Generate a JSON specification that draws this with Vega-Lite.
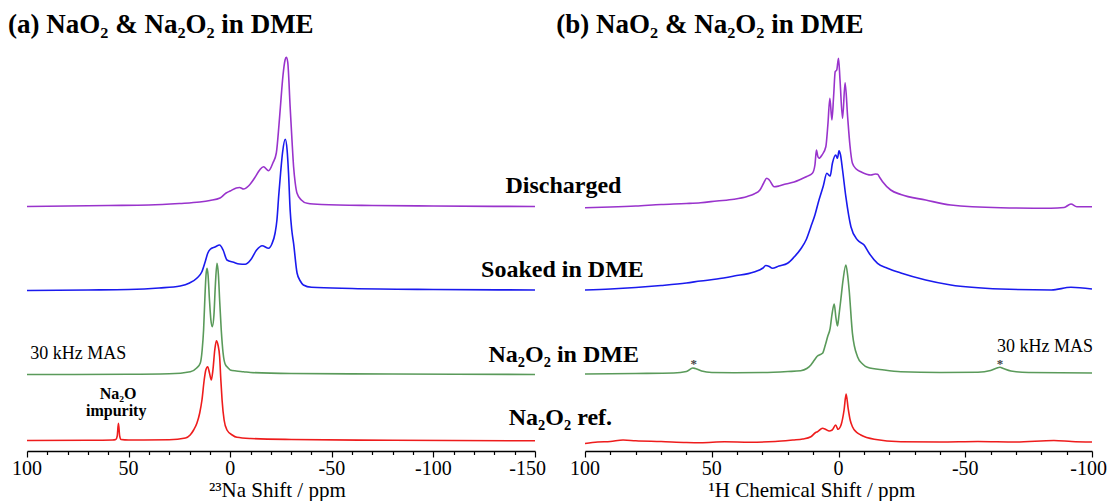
{
  "$schema": "https://vega.github.io/schema/vega-lite/v6.json",
  "padding": {"left": 8, "top": 11, "right": 0, "bottom": 0},
  "background": "white",
  "config": {
    "view": {"stroke": null}
  },
  "datasets": {
    "na": [
      {"sample":"Discharged","ppm":100,"intensity":244.5},{"sample":"Discharged","ppm":80,"intensity":245},{"sample":"Discharged","ppm":60,"intensity":245.5},{"sample":"Discharged","ppm":40,"intensity":246},{"sample":"Discharged","ppm":25,"intensity":247.5},{"sample":"Discharged","ppm":15,"intensity":249},{"sample":"Discharged","ppm":10,"intensity":250.5},{"sample":"Discharged","ppm":5,"intensity":253},{"sample":"Discharged","ppm":2,"intensity":258},{"sample":"Discharged","ppm":0,"intensity":260},{"sample":"Discharged","ppm":-3,"intensity":263},{"sample":"Discharged","ppm":-4.6,"intensity":263.5},{"sample":"Discharged","ppm":-6.6,"intensity":262},{"sample":"Discharged","ppm":-9,"intensity":265},{"sample":"Discharged","ppm":-12,"intensity":273},{"sample":"Discharged","ppm":-14.5,"intensity":281},{"sample":"Discharged","ppm":-16.4,"intensity":284.3},{"sample":"Discharged","ppm":-18.9,"intensity":280.3},{"sample":"Discharged","ppm":-21,"intensity":288},{"sample":"Discharged","ppm":-22.7,"intensity":298},{"sample":"Discharged","ppm":-24,"intensity":326},{"sample":"Discharged","ppm":-24.7,"intensity":344},{"sample":"Discharged","ppm":-26,"intensity":376},{"sample":"Discharged","ppm":-27,"intensity":391},{"sample":"Discharged","ppm":-27.6,"intensity":393.7},{"sample":"Discharged","ppm":-28.3,"intensity":389},{"sample":"Discharged","ppm":-29.5,"intensity":344},{"sample":"Discharged","ppm":-30.4,"intensity":311},{"sample":"Discharged","ppm":-31.2,"intensity":284.3},{"sample":"Discharged","ppm":-32,"intensity":268},{"sample":"Discharged","ppm":-32.9,"intensity":257.7},{"sample":"Discharged","ppm":-35,"intensity":251},{"sample":"Discharged","ppm":-37.9,"intensity":247.7},{"sample":"Discharged","ppm":-45,"intensity":246.5},{"sample":"Discharged","ppm":-70,"intensity":245.5},{"sample":"Discharged","ppm":-100,"intensity":245},{"sample":"Discharged","ppm":-150,"intensity":244.5},
      {"sample":"Soaked in DME","ppm":100,"intensity":160.5},{"sample":"Soaked in DME","ppm":70,"intensity":161},{"sample":"Soaked in DME","ppm":50,"intensity":161.5},{"sample":"Soaked in DME","ppm":35,"intensity":163},{"sample":"Soaked in DME","ppm":24.6,"intensity":165},{"sample":"Soaked in DME","ppm":20,"intensity":168},{"sample":"Soaked in DME","ppm":16.3,"intensity":173},{"sample":"Soaked in DME","ppm":14,"intensity":179},{"sample":"Soaked in DME","ppm":12.3,"intensity":189.3},{"sample":"Soaked in DME","ppm":11,"intensity":198},{"sample":"Soaked in DME","ppm":9.8,"intensity":201.7},{"sample":"Soaked in DME","ppm":7.5,"intensity":204},{"sample":"Soaked in DME","ppm":5.2,"intensity":206},{"sample":"Soaked in DME","ppm":3.5,"intensity":201},{"sample":"Soaked in DME","ppm":1.6,"intensity":191},{"sample":"Soaked in DME","ppm":-1.7,"intensity":188.7},{"sample":"Soaked in DME","ppm":-4.5,"intensity":187},{"sample":"Soaked in DME","ppm":-7.4,"intensity":186.7},{"sample":"Soaked in DME","ppm":-10,"intensity":191},{"sample":"Soaked in DME","ppm":-13,"intensity":201},{"sample":"Soaked in DME","ppm":-15.7,"intensity":205.3},{"sample":"Soaked in DME","ppm":-18.9,"intensity":202.7},{"sample":"Soaked in DME","ppm":-20.5,"intensity":207},{"sample":"Soaked in DME","ppm":-22.1,"intensity":218},{"sample":"Soaked in DME","ppm":-23,"intensity":231},{"sample":"Soaked in DME","ppm":-23.9,"intensity":256},{"sample":"Soaked in DME","ppm":-24.8,"intensity":278},{"sample":"Soaked in DME","ppm":-25.8,"intensity":299},{"sample":"Soaked in DME","ppm":-27.1,"intensity":311.7},{"sample":"Soaked in DME","ppm":-28,"intensity":301},{"sample":"Soaked in DME","ppm":-28.7,"intensity":278},{"sample":"Soaked in DME","ppm":-29.5,"intensity":241},{"sample":"Soaked in DME","ppm":-30.3,"intensity":221},{"sample":"Soaked in DME","ppm":-31.2,"intensity":207.7},{"sample":"Soaked in DME","ppm":-32.9,"intensity":178},{"sample":"Soaked in DME","ppm":-34.5,"intensity":170},{"sample":"Soaked in DME","ppm":-36,"intensity":166},{"sample":"Soaked in DME","ppm":-40,"intensity":163.7},{"sample":"Soaked in DME","ppm":-60,"intensity":162.5},{"sample":"Soaked in DME","ppm":-100,"intensity":161.5},{"sample":"Soaked in DME","ppm":-150,"intensity":161},
      {"sample":"Na2O2 in DME","ppm":100,"intensity":76.5},{"sample":"Na2O2 in DME","ppm":50,"intensity":76.7},{"sample":"Na2O2 in DME","ppm":30,"intensity":77.2},{"sample":"Na2O2 in DME","ppm":19.6,"intensity":79.3},{"sample":"Na2O2 in DME","ppm":16.5,"intensity":83},{"sample":"Na2O2 in DME","ppm":14.7,"intensity":88},{"sample":"Na2O2 in DME","ppm":13.8,"intensity":101},{"sample":"Na2O2 in DME","ppm":13.1,"intensity":121},{"sample":"Na2O2 in DME","ppm":12.4,"intensity":156},{"sample":"Na2O2 in DME","ppm":11.9,"intensity":176},{"sample":"Na2O2 in DME","ppm":11.4,"intensity":182.7},{"sample":"Na2O2 in DME","ppm":10.9,"intensity":176},{"sample":"Na2O2 in DME","ppm":10.2,"intensity":151},{"sample":"Na2O2 in DME","ppm":9.5,"intensity":131},{"sample":"Na2O2 in DME","ppm":8.8,"intensity":124.3},{"sample":"Na2O2 in DME","ppm":8,"intensity":136},{"sample":"Na2O2 in DME","ppm":7.3,"intensity":166},{"sample":"Na2O2 in DME","ppm":6.5,"intensity":187.7},{"sample":"Na2O2 in DME","ppm":5.8,"intensity":176},{"sample":"Na2O2 in DME","ppm":5.2,"intensity":151},{"sample":"Na2O2 in DME","ppm":4.4,"intensity":121},{"sample":"Na2O2 in DME","ppm":3.5,"intensity":98},{"sample":"Na2O2 in DME","ppm":2.5,"intensity":87},{"sample":"Na2O2 in DME","ppm":1,"intensity":83},{"sample":"Na2O2 in DME","ppm":0,"intensity":81},{"sample":"Na2O2 in DME","ppm":-3,"intensity":80},{"sample":"Na2O2 in DME","ppm":-6.6,"intensity":79.3},{"sample":"Na2O2 in DME","ppm":-10,"intensity":78.5},{"sample":"Na2O2 in DME","ppm":-30,"intensity":77.5},{"sample":"Na2O2 in DME","ppm":-80,"intensity":77},{"sample":"Na2O2 in DME","ppm":-150,"intensity":76.5},
      {"sample":"Na2O2 ref.","ppm":100,"intensity":10.5},{"sample":"Na2O2 ref.","ppm":70,"intensity":10.7},{"sample":"Na2O2 ref.","ppm":58,"intensity":11},{"sample":"Na2O2 ref.","ppm":56.3,"intensity":11.5},{"sample":"Na2O2 ref.","ppm":55.6,"intensity":15},{"sample":"Na2O2 ref.","ppm":55,"intensity":27.7},{"sample":"Na2O2 ref.","ppm":54.4,"intensity":15},{"sample":"Na2O2 ref.","ppm":53.7,"intensity":11.5},{"sample":"Na2O2 ref.","ppm":50,"intensity":11},{"sample":"Na2O2 ref.","ppm":30,"intensity":11.2},{"sample":"Na2O2 ref.","ppm":22,"intensity":13},{"sample":"Na2O2 ref.","ppm":19.7,"intensity":16},{"sample":"Na2O2 ref.","ppm":18,"intensity":21},{"sample":"Na2O2 ref.","ppm":16.4,"intensity":27.7},{"sample":"Na2O2 ref.","ppm":15,"intensity":38},{"sample":"Na2O2 ref.","ppm":13.9,"intensity":51},{"sample":"Na2O2 ref.","ppm":12.8,"intensity":71},{"sample":"Na2O2 ref.","ppm":12,"intensity":81},{"sample":"Na2O2 ref.","ppm":11.1,"intensity":84.3},{"sample":"Na2O2 ref.","ppm":10.2,"intensity":78},{"sample":"Na2O2 ref.","ppm":9.3,"intensity":71},{"sample":"Na2O2 ref.","ppm":8.5,"intensity":81},{"sample":"Na2O2 ref.","ppm":7.6,"intensity":101},{"sample":"Na2O2 ref.","ppm":6.8,"intensity":110.3},{"sample":"Na2O2 ref.","ppm":6,"intensity":106},{"sample":"Na2O2 ref.","ppm":5.2,"intensity":94.3},{"sample":"Na2O2 ref.","ppm":4.6,"intensity":71},{"sample":"Na2O2 ref.","ppm":4,"intensity":51},{"sample":"Na2O2 ref.","ppm":3,"intensity":31},{"sample":"Na2O2 ref.","ppm":1.6,"intensity":21},{"sample":"Na2O2 ref.","ppm":-1,"intensity":16},{"sample":"Na2O2 ref.","ppm":-3.3,"intensity":13.7},{"sample":"Na2O2 ref.","ppm":-10,"intensity":12.5},{"sample":"Na2O2 ref.","ppm":-30,"intensity":11.5},{"sample":"Na2O2 ref.","ppm":-80,"intensity":10.7},{"sample":"Na2O2 ref.","ppm":-150,"intensity":10.2}
    ],
    "h": [
      {"sample":"Discharged","ppm":100,"intensity":243.3},{"sample":"Discharged","ppm":90,"intensity":244},{"sample":"Discharged","ppm":80,"intensity":245},{"sample":"Discharged","ppm":70,"intensity":246.5},{"sample":"Discharged","ppm":60,"intensity":247.5},{"sample":"Discharged","ppm":54.4,"intensity":248.3},{"sample":"Discharged","ppm":48,"intensity":250},{"sample":"Discharged","ppm":41.2,"intensity":251.7},{"sample":"Discharged","ppm":36,"intensity":254.5},{"sample":"Discharged","ppm":33.3,"intensity":257},{"sample":"Discharged","ppm":31,"intensity":261},{"sample":"Discharged","ppm":29.5,"intensity":268},{"sample":"Discharged","ppm":28.3,"intensity":272.7},{"sample":"Discharged","ppm":27.3,"intensity":271},{"sample":"Discharged","ppm":25.4,"intensity":264.3},{"sample":"Discharged","ppm":23.5,"intensity":265},{"sample":"Discharged","ppm":20.8,"intensity":267},{"sample":"Discharged","ppm":17.5,"intensity":269},{"sample":"Discharged","ppm":14.9,"intensity":271.7},{"sample":"Discharged","ppm":12.5,"intensity":274.5},{"sample":"Discharged","ppm":10.3,"intensity":277.7},{"sample":"Discharged","ppm":9.3,"intensity":286},{"sample":"Discharged","ppm":8.7,"intensity":301},{"sample":"Discharged","ppm":8.2,"intensity":295},{"sample":"Discharged","ppm":7.7,"intensity":292.7},{"sample":"Discharged","ppm":6.5,"intensity":296},{"sample":"Discharged","ppm":5,"intensity":304.3},{"sample":"Discharged","ppm":4.2,"intensity":326},{"sample":"Discharged","ppm":3.4,"intensity":352.7},{"sample":"Discharged","ppm":2.6,"intensity":331},{"sample":"Discharged","ppm":1.9,"intensity":356},{"sample":"Discharged","ppm":1.3,"intensity":379.3},{"sample":"Discharged","ppm":0.7,"intensity":381},{"sample":"Discharged","ppm":0,"intensity":392.7},{"sample":"Discharged","ppm":-0.6,"intensity":371},{"sample":"Discharged","ppm":-1.6,"intensity":332.7},{"sample":"Discharged","ppm":-2.6,"intensity":368.3},{"sample":"Discharged","ppm":-3.6,"intensity":334.3},{"sample":"Discharged","ppm":-4.5,"intensity":306},{"sample":"Discharged","ppm":-5.5,"intensity":287.7},{"sample":"Discharged","ppm":-7,"intensity":282},{"sample":"Discharged","ppm":-8.8,"intensity":279.3},{"sample":"Discharged","ppm":-12.8,"intensity":276},{"sample":"Discharged","ppm":-14.5,"intensity":277},{"sample":"Discharged","ppm":-15.4,"intensity":276.7},{"sample":"Discharged","ppm":-16.4,"intensity":273},{"sample":"Discharged","ppm":-17.4,"intensity":269.3},{"sample":"Discharged","ppm":-20.6,"intensity":261},{"sample":"Discharged","ppm":-24.6,"intensity":256.5},{"sample":"Discharged","ppm":-34.4,"intensity":251},{"sample":"Discharged","ppm":-44.3,"intensity":246},{"sample":"Discharged","ppm":-64,"intensity":243.3},{"sample":"Discharged","ppm":-83.8,"intensity":242.7},{"sample":"Discharged","ppm":-89,"intensity":243.5},{"sample":"Discharged","ppm":-91.7,"intensity":247},{"sample":"Discharged","ppm":-94,"intensity":244.3},{"sample":"Discharged","ppm":-100,"intensity":244.3},
      {"sample":"Soaked in DME","ppm":100,"intensity":161},{"sample":"Soaked in DME","ppm":90,"intensity":162},{"sample":"Soaked in DME","ppm":80,"intensity":163.5},{"sample":"Soaked in DME","ppm":70,"intensity":165.5},{"sample":"Soaked in DME","ppm":60,"intensity":168},{"sample":"Soaked in DME","ppm":54.4,"intensity":170},{"sample":"Soaked in DME","ppm":48,"intensity":172},{"sample":"Soaked in DME","ppm":41.2,"intensity":175},{"sample":"Soaked in DME","ppm":33.3,"intensity":179},{"sample":"Soaked in DME","ppm":29.8,"intensity":183},{"sample":"Soaked in DME","ppm":28.7,"intensity":185.5},{"sample":"Soaked in DME","ppm":27.3,"intensity":184.5},{"sample":"Soaked in DME","ppm":26.1,"intensity":182.7},{"sample":"Soaked in DME","ppm":23.5,"intensity":185},{"sample":"Soaked in DME","ppm":20.1,"intensity":187.7},{"sample":"Soaked in DME","ppm":17.5,"intensity":194},{"sample":"Soaked in DME","ppm":14.9,"intensity":202},{"sample":"Soaked in DME","ppm":12.8,"intensity":211},{"sample":"Soaked in DME","ppm":10.9,"intensity":224.3},{"sample":"Soaked in DME","ppm":9.3,"intensity":236},{"sample":"Soaked in DME","ppm":7.7,"intensity":251},{"sample":"Soaked in DME","ppm":6,"intensity":265},{"sample":"Soaked in DME","ppm":4.6,"intensity":277.7},{"sample":"Soaked in DME","ppm":3.3,"intensity":275},{"sample":"Soaked in DME","ppm":2.4,"intensity":287.7},{"sample":"Soaked in DME","ppm":1.1,"intensity":296},{"sample":"Soaked in DME","ppm":0.4,"intensity":292.7},{"sample":"Soaked in DME","ppm":-0.2,"intensity":300.3},{"sample":"Soaked in DME","ppm":-0.8,"intensity":296},{"sample":"Soaked in DME","ppm":-1.6,"intensity":281},{"sample":"Soaked in DME","ppm":-2.9,"intensity":254.3},{"sample":"Soaked in DME","ppm":-4.9,"intensity":224.3},{"sample":"Soaked in DME","ppm":-7.5,"intensity":211},{"sample":"Soaked in DME","ppm":-10.1,"intensity":206},{"sample":"Soaked in DME","ppm":-12.1,"intensity":197.7},{"sample":"Soaked in DME","ppm":-15.4,"intensity":187.7},{"sample":"Soaked in DME","ppm":-19.3,"intensity":182.7},{"sample":"Soaked in DME","ppm":-24.6,"intensity":178},{"sample":"Soaked in DME","ppm":-34.4,"intensity":171},{"sample":"Soaked in DME","ppm":-44.3,"intensity":166},{"sample":"Soaked in DME","ppm":-64,"intensity":162},{"sample":"Soaked in DME","ppm":-84,"intensity":161},{"sample":"Soaked in DME","ppm":-91.7,"intensity":163.7},{"sample":"Soaked in DME","ppm":-100,"intensity":162},
      {"sample":"Na2O2 in DME","ppm":100,"intensity":77},{"sample":"Na2O2 in DME","ppm":80,"intensity":77.5},{"sample":"Na2O2 in DME","ppm":65,"intensity":78},{"sample":"Na2O2 in DME","ppm":60,"intensity":79.5},{"sample":"Na2O2 in DME","ppm":57.5,"intensity":83},{"sample":"Na2O2 in DME","ppm":56.5,"intensity":82.5},{"sample":"Na2O2 in DME","ppm":54,"intensity":80},{"sample":"Na2O2 in DME","ppm":50,"intensity":78.5},{"sample":"Na2O2 in DME","ppm":41.2,"intensity":78.3},{"sample":"Na2O2 in DME","ppm":30,"intensity":78.5},{"sample":"Na2O2 in DME","ppm":20,"intensity":79.5},{"sample":"Na2O2 in DME","ppm":14.9,"intensity":80.3},{"sample":"Na2O2 in DME","ppm":12.5,"intensity":82.5},{"sample":"Na2O2 in DME","ppm":10.9,"intensity":86},{"sample":"Na2O2 in DME","ppm":9.5,"intensity":91},{"sample":"Na2O2 in DME","ppm":8.3,"intensity":95},{"sample":"Na2O2 in DME","ppm":7.2,"intensity":96.5},{"sample":"Na2O2 in DME","ppm":6.3,"intensity":97.7},{"sample":"Na2O2 in DME","ppm":5.2,"intensity":106},{"sample":"Na2O2 in DME","ppm":4.3,"intensity":114.3},{"sample":"Na2O2 in DME","ppm":3.3,"intensity":122.7},{"sample":"Na2O2 in DME","ppm":2.6,"intensity":136},{"sample":"Na2O2 in DME","ppm":1.7,"intensity":147},{"sample":"Na2O2 in DME","ppm":1,"intensity":133},{"sample":"Na2O2 in DME","ppm":0.4,"intensity":125},{"sample":"Na2O2 in DME","ppm":-0.2,"intensity":136},{"sample":"Na2O2 in DME","ppm":-0.9,"intensity":151},{"sample":"Na2O2 in DME","ppm":-1.8,"intensity":171},{"sample":"Na2O2 in DME","ppm":-2.9,"intensity":186},{"sample":"Na2O2 in DME","ppm":-3.6,"intensity":176},{"sample":"Na2O2 in DME","ppm":-4.2,"intensity":161},{"sample":"Na2O2 in DME","ppm":-5.5,"intensity":117.7},{"sample":"Na2O2 in DME","ppm":-7.5,"intensity":94.3},{"sample":"Na2O2 in DME","ppm":-9.5,"intensity":87},{"sample":"Na2O2 in DME","ppm":-11.4,"intensity":83.7},{"sample":"Na2O2 in DME","ppm":-18,"intensity":81},{"sample":"Na2O2 in DME","ppm":-24.6,"intensity":79.3},{"sample":"Na2O2 in DME","ppm":-40,"intensity":78.5},{"sample":"Na2O2 in DME","ppm":-55,"intensity":78.7},{"sample":"Na2O2 in DME","ppm":-60,"intensity":80.5},{"sample":"Na2O2 in DME","ppm":-62.5,"intensity":83},{"sample":"Na2O2 in DME","ppm":-63.7,"intensity":83.7},{"sample":"Na2O2 in DME","ppm":-65,"intensity":82.5},{"sample":"Na2O2 in DME","ppm":-68,"intensity":80},{"sample":"Na2O2 in DME","ppm":-75,"intensity":78.5},{"sample":"Na2O2 in DME","ppm":-100,"intensity":78},
      {"sample":"Na2O2 ref.","ppm":100,"intensity":7.5},{"sample":"Na2O2 ref.","ppm":95,"intensity":9},{"sample":"Na2O2 ref.","ppm":90,"intensity":9.5},{"sample":"Na2O2 ref.","ppm":85,"intensity":11},{"sample":"Na2O2 ref.","ppm":80,"intensity":10.2},{"sample":"Na2O2 ref.","ppm":70,"intensity":9.5},{"sample":"Na2O2 ref.","ppm":60,"intensity":8.5},{"sample":"Na2O2 ref.","ppm":54.4,"intensity":8.3},{"sample":"Na2O2 ref.","ppm":45,"intensity":9.2},{"sample":"Na2O2 ref.","ppm":35,"intensity":8.8},{"sample":"Na2O2 ref.","ppm":25,"intensity":9.5},{"sample":"Na2O2 ref.","ppm":18,"intensity":11},{"sample":"Na2O2 ref.","ppm":14.1,"intensity":12},{"sample":"Na2O2 ref.","ppm":10.9,"intensity":14.3},{"sample":"Na2O2 ref.","ppm":9,"intensity":18.5},{"sample":"Na2O2 ref.","ppm":8.3,"intensity":19.3},{"sample":"Na2O2 ref.","ppm":6.3,"intensity":22.7},{"sample":"Na2O2 ref.","ppm":5,"intensity":21.5},{"sample":"Na2O2 ref.","ppm":3.7,"intensity":20},{"sample":"Na2O2 ref.","ppm":2.5,"intensity":21},{"sample":"Na2O2 ref.","ppm":1.1,"intensity":26},{"sample":"Na2O2 ref.","ppm":0.2,"intensity":21.7},{"sample":"Na2O2 ref.","ppm":-1,"intensity":26},{"sample":"Na2O2 ref.","ppm":-2.2,"intensity":41},{"sample":"Na2O2 ref.","ppm":-3,"intensity":57},{"sample":"Na2O2 ref.","ppm":-3.8,"intensity":42.7},{"sample":"Na2O2 ref.","ppm":-4.6,"intensity":31},{"sample":"Na2O2 ref.","ppm":-5.5,"intensity":24.3},{"sample":"Na2O2 ref.","ppm":-7,"intensity":19},{"sample":"Na2O2 ref.","ppm":-8.8,"intensity":16},{"sample":"Na2O2 ref.","ppm":-14.1,"intensity":11.7},{"sample":"Na2O2 ref.","ppm":-24.6,"intensity":9.3},{"sample":"Na2O2 ref.","ppm":-40,"intensity":9},{"sample":"Na2O2 ref.","ppm":-55,"intensity":9.5},{"sample":"Na2O2 ref.","ppm":-70,"intensity":9},{"sample":"Na2O2 ref.","ppm":-85,"intensity":10.5},{"sample":"Na2O2 ref.","ppm":-92,"intensity":9.5},{"sample":"Na2O2 ref.","ppm":-100,"intensity":9}
    ]
  },
  "hconcat": [
    {
      "width": 508, "height": 411,
      "encoding": {
        "x": {"field": "ppm", "type": "quantitative",
          "scale": {"domain": [-150, 100], "reverse": true, "nice": false, "zero": false},
          "axis": {"title": null, "labels": false,
            "values": [100,90,80,70,60,50,40,30,20,10,0,-10,-20,-30,-40,-50,-60,-70,-80,-90,-100,-110,-120,-130,-140,-150],
            "tickSize": {"condition": {"test": "datum.value % 50 === 0", "value": 6}, "value": 3.5},
            "domainColor": "black", "domainWidth": 1.5, "tickColor": "black", "tickWidth": 1.2, "grid": false}},
        "y": {"field": "intensity", "type": "quantitative", "scale": {"domain": [0, 411], "nice": false, "zero": false}, "axis": null}
      },
      "layer": [
        {
          "data": {"name": "na"},
          "mark": {"type": "line", "strokeWidth": 1.6, "interpolate": "monotone"},
          "encoding": {
            "color": {"field": "sample", "type": "nominal", "legend": null,
              "scale": {"domain": ["Discharged", "Soaked in DME", "Na2O2 in DME", "Na2O2 ref."], "range": ["#9933cc", "#1a1aee", "#5a9a5a", "#ee1c1c"]}}
          }
        },
        {
          "data": {"values": [{"label": "100", "ppm": 100, "intensity": -24}, {"label": "50", "ppm": 50, "intensity": -24}, {"label": "0", "ppm": 0, "intensity": -24}, {"label": "-50", "ppm": -50, "intensity": -24}, {"label": "-100", "ppm": -100, "intensity": -24}]},
          "mark": {"type": "text", "align": "center", "baseline": "alphabetic", "font": "Liberation Serif, Times New Roman, Times, serif", "fontSize": 20, "color": "black"},
          "encoding": {"text": {"field": "label"}}
        },
        {
          "data": {"values": [{"label": "-150", "ppm": -150, "intensity": -24}]},
          "mark": {"type": "text", "align": "right", "dx": 11, "baseline": "alphabetic", "font": "Liberation Serif, Times New Roman, Times, serif", "fontSize": 20, "color": "black"},
          "encoding": {"text": {"field": "label"}}
        },
        {
          "data": {"values": [{"label": "²³Na Shift / ppm", "ppm": -23.2, "intensity": -46}]},
          "mark": {"type": "text", "align": "center", "baseline": "alphabetic", "font": "Liberation Serif, Times New Roman, Times, serif", "fontSize": 21, "color": "black"},
          "encoding": {"text": {"field": "label"}}
        },
        {
          "data": {"values": [{"label": "(a) NaO₂ & Na₂O₂ in DME", "ppm": 109.3, "intensity": 417.7}]},
          "mark": {"type": "text", "align": "left", "baseline": "alphabetic", "font": "Liberation Serif", "fontSize": 27, "fontWeight": "bold", "color": "black"},
          "encoding": {"text": {"field": "label"}}
        },
        {
          "data": {"values": [{"label": "30 kHz MAS", "ppm": 98.4, "intensity": 91.7}]},
          "mark": {"type": "text", "align": "left", "baseline": "alphabetic", "font": "Liberation Serif, Times New Roman, Times, serif", "fontSize": 18, "color": "black"},
          "encoding": {"text": {"field": "label"}}
        },
        {
          "data": {"values": [{"label": "Na₂O", "ppm": 55.2, "intensity": 51.7}, {"label": "impurity", "ppm": 56.1, "intensity": 35}]},
          "mark": {"type": "text", "align": "center", "baseline": "alphabetic", "font": "Liberation Serif", "fontSize": 16, "fontWeight": "bold", "color": "black"},
          "encoding": {"text": {"field": "label"}}
        }
      ]
    },
    {
      "width": 507, "height": 411,
      "encoding": {
        "x": {"field": "ppm", "type": "quantitative",
          "scale": {"domain": [-100, 100], "reverse": true, "nice": false, "zero": false},
          "axis": {"title": null, "labels": false,
            "values": [100,90,80,70,60,50,40,30,20,10,0,-10,-20,-30,-40,-50,-60,-70,-80,-90,-100],
            "tickSize": {"condition": {"test": "datum.value % 50 === 0", "value": 6}, "value": 3.5},
            "domainColor": "black", "domainWidth": 1.5, "tickColor": "black", "tickWidth": 1.2, "grid": false}},
        "y": {"field": "intensity", "type": "quantitative", "scale": {"domain": [0, 411], "nice": false, "zero": false}, "axis": null}
      },
      "layer": [
        {
          "data": {"name": "h"},
          "mark": {"type": "line", "strokeWidth": 1.6, "interpolate": "monotone"},
          "encoding": {
            "color": {"field": "sample", "type": "nominal", "legend": null,
              "scale": {"domain": ["Discharged", "Soaked in DME", "Na2O2 in DME", "Na2O2 ref."], "range": ["#9933cc", "#1a1aee", "#5a9a5a", "#ee1c1c"]}}
          }
        },
        {
          "data": {"values": [{"label": "100", "ppm": 100, "intensity": -24}, {"label": "50", "ppm": 50, "intensity": -24}, {"label": "0", "ppm": 0, "intensity": -24}, {"label": "-50", "ppm": -50, "intensity": -24}]},
          "mark": {"type": "text", "align": "center", "baseline": "alphabetic", "font": "Liberation Serif, Times New Roman, Times, serif", "fontSize": 20, "color": "black"},
          "encoding": {"text": {"field": "label"}}
        },
        {
          "data": {"values": [{"label": "-100", "ppm": -100, "intensity": -24}]},
          "mark": {"type": "text", "align": "right", "dx": 15, "baseline": "alphabetic", "font": "Liberation Serif, Times New Roman, Times, serif", "fontSize": 20, "color": "black"},
          "encoding": {"text": {"field": "label"}}
        },
        {
          "data": {"values": [{"label": "¹H Chemical Shift / ppm", "ppm": 10.5, "intensity": -46}]},
          "mark": {"type": "text", "align": "center", "baseline": "alphabetic", "font": "Liberation Serif, Times New Roman, Times, serif", "fontSize": 21, "color": "black"},
          "encoding": {"text": {"field": "label"}}
        },
        {
          "data": {"values": [{"label": "(b) NaO₂ & Na₂O₂ in DME", "ppm": 111.3, "intensity": 417.7}]},
          "mark": {"type": "text", "align": "left", "baseline": "alphabetic", "font": "Liberation Serif", "fontSize": 27, "fontWeight": "bold", "color": "black"},
          "encoding": {"text": {"field": "label"}}
        },
        {
          "data": {"values": [
            {"label": "Discharged", "ppm": 108.5, "intensity": 257.7},
            {"label": "Soaked in DME", "ppm": 108.9, "intensity": 174.3},
            {"label": "Na₂O₂ in DME", "ppm": 108.4, "intensity": 89.3},
            {"label": "Na₂O₂ ref.", "ppm": 109.7, "intensity": 26}
          ]},
          "mark": {"type": "text", "align": "center", "baseline": "alphabetic", "font": "Liberation Serif", "fontSize": 24, "fontWeight": "bold", "color": "black"},
          "encoding": {"text": {"field": "label"}}
        },
        {
          "data": {"values": [{"label": "30 kHz MAS", "ppm": -62.5, "intensity": 99.3}]},
          "mark": {"type": "text", "align": "left", "baseline": "alphabetic", "font": "Liberation Serif, Times New Roman, Times, serif", "fontSize": 18, "color": "black"},
          "encoding": {"text": {"field": "label"}}
        },
        {
          "data": {"values": [{"label": "*", "ppm": 57.1, "intensity": 83}, {"label": "*", "ppm": -63.7, "intensity": 83}]},
          "mark": {"type": "text", "align": "center", "baseline": "alphabetic", "font": "Liberation Serif", "fontSize": 13, "fontWeight": "bold", "color": "#444444"},
          "encoding": {"text": {"field": "label"}}
        }
      ]
    }
  ],
  "spacing": 50,
  "bounds": "flush"
}
